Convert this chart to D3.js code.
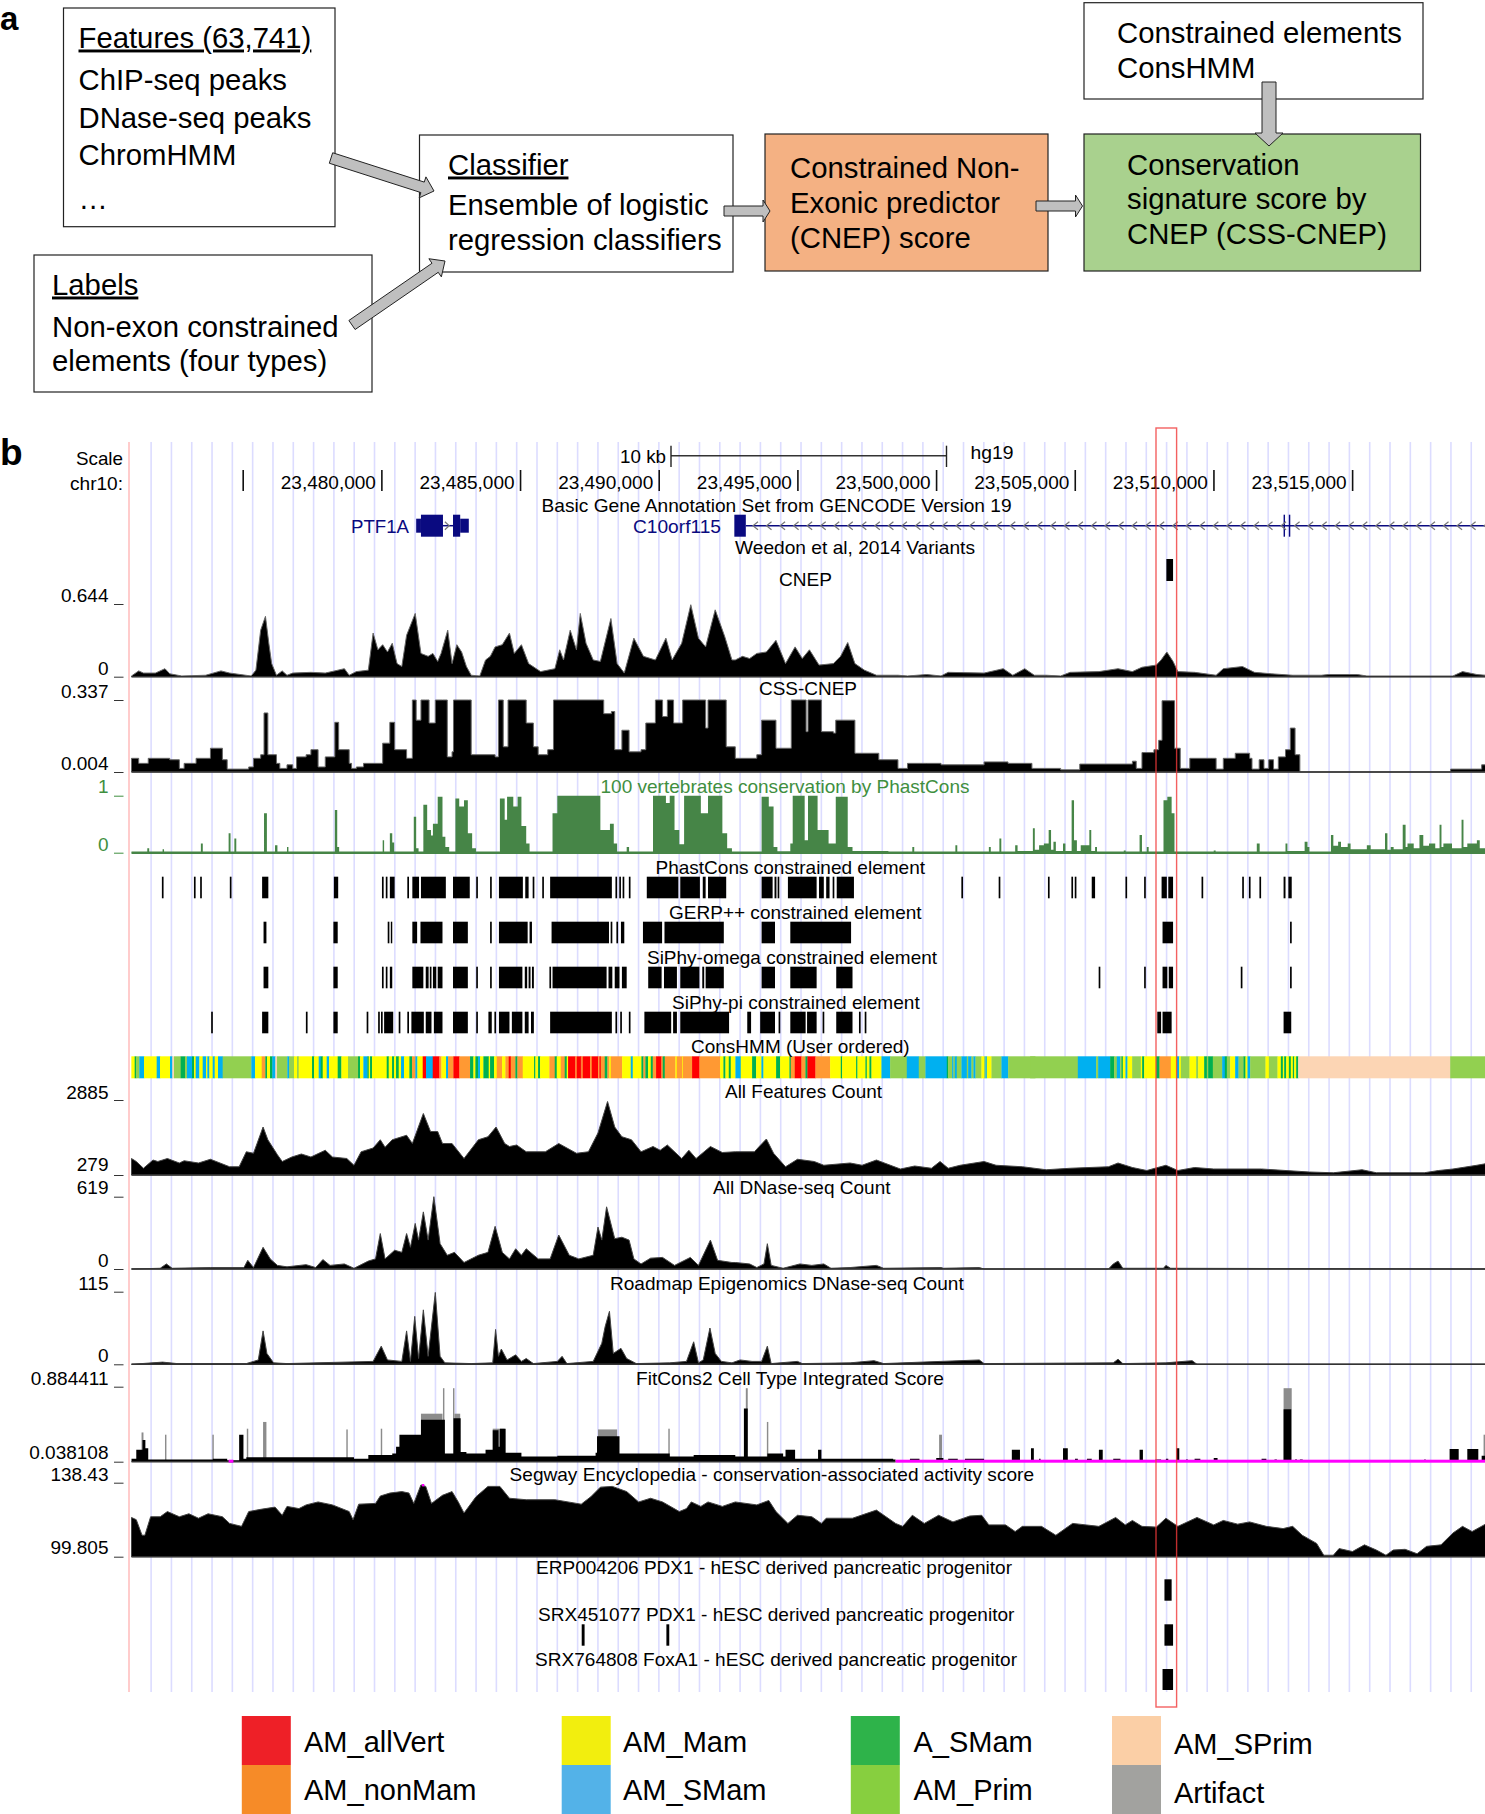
<!DOCTYPE html>
<html><head><meta charset="utf-8">
<script src="https://cdnjs.cloudflare.com/ajax/libs/d3/7.8.5/d3.min.js"></script>
<style>
html,body{margin:0;padding:0;background:#fff}
svg{display:block}
text{font-family:"Liberation Sans",Arial,sans-serif;fill:#000}
</style></head><body><svg id="c" width="1485" height="1814"></svg>
<script>
// ---------- DATA ----------
// Wiggle positions are in bins of BIN_BP from the view start; values are % of the track's viewing range.
const BIN_BP = 17.25, CONS_BP = 12.02, VIEW_START = 23470991, VIEW_BP = 48800;
const chrTicks = [23475000,23480000,23485000,23490000,23495000,23500000,23505000,23510000,23515000];

const cnep = [[0,1],[15,8],[25,5],[50,5],[70,11],[80,4],[105,1],[155,2],[187,8],[205,5],[250,1],[260,9],[270,64],[280,83],[287,46],[293,18],[303,2],[315,8],[325,2],[337,5],[375,6],[405,5],[445,11],[455,2],[470,7],[495,9],[505,60],[515,37],[525,44],[535,34],[545,46],[555,18],[565,14],[575,57],[593,87],[605,32],[620,28],[630,32],[640,21],[647,32],[661,64],[670,18],[680,44],[690,34],[700,14],[710,2],[728,1],[740,23],[750,28],[760,41],[775,44],[790,60],[800,32],[815,44],[830,18],[855,7],[885,11],[895,37],[903,23],[917,64],[930,37],[938,87],[950,46],[965,23],[980,21],[1002,80],[1015,18],[1030,5],[1050,53],[1070,28],[1095,23],[1117,53],[1130,23],[1150,46],[1169,99],[1185,53],[1200,41],[1220,92],[1240,55],[1255,23],[1262,23],[1277,28],[1292,25],[1307,32],[1327,34],[1347,50],[1367,18],[1387,41],[1402,25],[1417,37],[1437,16],[1467,18],[1482,28],[1497,47],[1512,18],[1532,9],[1557,2],[1602,2],[1622,1],[1662,3],[1692,1],[1707,6],[1782,5],[1822,11],[1842,2],[1867,11],[1887,2],[1912,2],[1942,1],[1962,6],[2022,7],[2062,11],[2092,7],[2112,13],[2142,16],[2152,23],[2164,34],[2177,21],[2187,7],[2222,6],[2267,2],[2282,11],[2322,14],[2347,6],[2382,4],[2427,2],[2487,2],[2502,3],[2562,3],[2582,1],[2762,1],[2782,7],[2812,3],[2830,2]];

const cssCnep = [[0,19],[15,12],[35,19],[80,17],[100,5],[110,12],[135,19],[165,33],[190,17],[200,4],[245,7],[255,19],[270,24],[277,82],[285,24],[303,12],[310,5],[325,10],[337,5],[345,21],[365,24],[375,31],[390,7],[405,21],[425,69],[433,31],[455,12],[460,5],[470,7],[485,12],[525,40],[540,69],[550,31],[575,19],[585,19],[587,100],[593,100],[595,72],[603,72],[605,100],[615,100],[622,68],[633,68],[635,100],[650,100],[660,21],[670,28],[673,100],[705,100],[710,24],[760,21],[767,100],[775,100],[777,35],[785,35],[787,100],[810,100],[825,68],[840,35],[850,24],[870,31],[882,100],[980,100],[987,81],[1003,84],[1010,31],[1025,58],[1040,28],[1065,31],[1075,68],[1095,100],[1107,100],[1110,77],[1118,77],[1120,100],[1130,100],[1133,68],[1150,68],[1152,100],[1185,100],[1200,61],[1203,61],[1205,100],[1235,100],[1243,35],[1262,19],[1307,24],[1317,72],[1337,72],[1347,33],[1377,33],[1379,100],[1407,100],[1410,56],[1414,100],[1435,100],[1442,56],[1467,54],[1472,72],[1502,72],[1512,26],[1562,17],[1602,5],[1622,12],[1662,12],[1692,10],[1782,14],[1832,12],[1882,5],[1942,3],[1982,11],[2092,15],[2100,5],[2112,27],[2137,31],[2147,44],[2154,99],[2172,99],[2180,33],[2192,5],[2212,19],[2257,19],[2267,4],[2282,19],[2307,26],[2337,19],[2342,4],[2357,17],[2367,5],[2377,17],[2387,4],[2397,21],[2412,31],[2422,61],[2432,24],[2442,0],[2752,0],[2757,4],[2812,4],[2822,10],[2830,7]];

const phastCons = [[0,1],[33,8],[37,1],[65,6],[68,1],[145,16],[149,1],[203,34],[207,1],[215,25],[219,1],[277,69],[283,1],[300,13],[305,1],[325,10],[328,1],[425,75],[430,10],[434,1],[525,22],[528,1],[540,34],[545,18],[549,1],[590,63],[595,8],[600,1],[610,84],[618,40],[626,30],[630,51],[640,98],[650,28],[656,10],[664,1],[677,95],[685,81],[695,92],[703,34],[712,8],[720,1],[770,95],[780,58],[785,98],[798,81],[807,98],[815,47],[825,16],[832,1],[880,69],[890,100],[980,40],[1000,51],[1008,16],[1015,1],[1035,10],[1040,1],[1090,100],[1117,87],[1125,100],[1135,40],[1145,15],[1155,100],[1190,69],[1205,100],[1235,34],[1245,8],[1255,1],[1317,98],[1332,81],[1342,10],[1350,2],[1377,16],[1382,100],[1407,22],[1414,100],[1434,40],[1457,16],[1472,98],[1497,10],[1507,3],[1582,1],[1632,10],[1636,1],[1722,13],[1726,1],[1792,10],[1796,1],[1814,25],[1818,1],[1847,13],[1852,3],[1884,43],[1888,5],[1897,13],[1907,16],[1917,40],[1922,5],[1927,19],[1932,3],[1947,16],[1952,3],[1965,92],[1970,22],[1976,3],[1984,13],[2002,40],[2006,3],[2014,10],[2018,1],[2074,4],[2078,1],[2107,31],[2112,1],[2122,10],[2126,1],[2157,92],[2165,98],[2174,69],[2180,1],[2262,4],[2266,1],[2352,16],[2358,1],[2412,16],[2416,3],[2452,19],[2458,10],[2462,1],[2507,31],[2512,12],[2522,19],[2528,10],[2542,16],[2548,6],[2582,13],[2590,6],[2620,34],[2625,5],[2632,10],[2638,6],[2657,49],[2663,10],[2667,16],[2680,8],[2692,31],[2700,12],[2712,16],[2725,8],[2734,49],[2738,10],[2742,16],[2760,8],[2780,58],[2784,10],[2792,16],[2812,22],[2818,8],[2830,16]];

const allFeatures = [[0,22],[10,18],[25,9],[45,20],[55,18],[75,22],[100,16],[110,19],[140,16],[165,21],[205,11],[225,11],[240,31],[255,29],[275,64],[285,47],[305,27],[315,18],[335,24],[355,28],[375,24],[405,33],[420,24],[450,22],[465,13],[480,31],[505,36],[520,47],[530,37],[545,47],[575,53],[587,42],[610,82],[625,58],[640,58],[650,42],[670,42],[695,22],[725,47],[745,51],[762,64],[780,42],[790,38],[805,40],[825,31],[865,31],[893,42],[930,29],[955,31],[975,56],[995,98],[1010,64],[1025,51],[1045,47],[1065,31],[1090,38],[1105,33],[1120,40],[1150,22],[1165,33],[1180,22],[1210,38],[1235,30],[1262,31],[1302,31],[1312,38],[1327,48],[1342,29],[1367,11],[1392,21],[1427,18],[1447,13],[1502,16],[1527,13],[1557,20],[1607,8],[1637,12],[1672,9],[1690,18],[1707,9],[1732,13],[1782,18],[1807,13],[1862,11],[1912,7],[1962,9],[2042,11],[2062,16],[2092,10],[2122,6],[2162,13],[2187,6],[2222,10],[2262,8],[2362,8],[2462,4],[2512,3],[2572,7],[2602,3],[2702,3],[2732,6],[2762,8],[2812,13],[2830,15]];

const allDnase = [[0,0],[60,1],[73,7],[85,1],[165,2],[235,2],[243,12],[255,2],[275,30],[290,14],[305,5],[325,3],[365,6],[385,2],[400,13],[415,5],[445,7],[465,1],[495,11],[510,14],[520,49],[530,14],[550,26],[565,23],[575,49],[583,30],[593,63],[600,40],[610,79],[620,40],[632,100],[645,35],[660,19],[675,23],[695,9],[725,19],[745,23],[760,59],[775,23],[790,14],[803,28],[815,19],[825,28],[850,14],[875,14],[893,47],[915,19],[935,14],[965,19],[975,58],[983,40],[993,86],[1010,42],[1025,44],[1040,40],[1050,14],[1065,7],[1085,15],[1110,16],[1135,5],[1168,16],[1185,5],[1210,40],[1225,12],[1255,9],[1262,9],[1292,7],[1307,2],[1322,7],[1329,35],[1337,5],[1362,1],[1397,7],[1422,5],[1447,7],[1462,1],[1502,2],[1557,5],[1572,1],[1692,2],[1697,1],[1772,2],[1782,0],[2042,0],[2052,7],[2062,11],[2072,1],[2157,1],[2162,5],[2172,1],[2830,0]];

const roadmapDnase = [[0,0],[65,3],[95,1],[240,1],[255,4],[265,6],[275,46],[283,15],[297,2],[325,1],[505,4],[522,25],[535,6],[565,4],[575,46],[583,4],[592,66],[600,8],[610,75],[620,11],[635,99],[645,11],[655,2],[710,1],[755,2],[761,48],[767,11],[773,21],[785,6],[803,13],[815,4],[825,8],[840,1],[890,4],[900,11],[910,1],[965,4],[983,29],[990,52],[999,73],[1007,15],[1023,22],[1035,8],[1055,1],[1125,2],[1160,4],[1175,31],[1185,2],[1195,6],[1209,50],[1220,15],[1233,4],[1255,2],[1272,6],[1297,4],[1317,4],[1329,25],[1337,1],[1392,4],[1402,1],[1502,2],[1552,5],[1572,1],[1772,6],[1782,1],[2052,2],[2062,7],[2072,1],[2162,2],[2217,5],[2227,0],[2830,0]];

const fitConsMean = [[0,4],[10,16],[23,29],[29,18],[35,3],[170,4],[200,2],[225,36],[234,4],[240,6],[325,6],[465,4],[495,9],[545,11],[553,20],[560,36],[605,56],[655,11],[673,58],[688,13],[700,11],[740,16],[755,42],[767,20],[770,44],[782,12],[815,7],[890,8],[970,12],[973,34],[1020,11],[1125,7],[1175,9],[1262,7],[1280,71],[1288,7],[1329,11],[1362,7],[1367,16],[1387,4],[1435,16],[1442,4],[1592,3],[1597,0],[1627,4],[1647,0],[1682,5],[1697,0],[1707,4],[1727,0],[1742,4],[1782,0],[1840,16],[1857,0],[1880,18],[1886,0],[1897,4],[1900,0],[1947,18],[1957,0],[1972,4],[1978,0],[1997,4],[2007,0],[2022,16],[2030,0],[2052,4],[2067,0],[2107,16],[2114,0],[2140,3],[2152,0],[2162,4],[2167,0],[2184,18],[2190,0],[2204,3],[2208,0],[2222,4],[2234,0],[2262,5],[2270,0],[2362,4],[2372,0],[2389,3],[2394,0],[2408,70],[2424,0],[2432,3],[2436,0],[2442,3],[2448,0],[2702,3],[2705,0],[2755,17],[2774,0],[2792,17],[2815,0],[2822,8],[2830,8]];
// upper whiskers: [start bin, end bin, %]
const fitConsWhisker = [[21,25,39],[70,73,36],[169,172,36],[241,244,44],[275,282,53],[449,452,43],[521,524,44],[605,650,64],[651,654,98],[672,675,98],[675,687,64],[755,780,44],[975,1015,43],[1122,1125,44],[1284,1288,98],[1328,1331,53],[1688,1694,36],[2408,2425,98],[2826,2829,36]];
const fitConsMissing = [[203,213],[1597,2830]];

const segway = [[0,53],[10,50],[22,29],[28,29],[40,54],[60,54],[75,61],[100,54],[120,58],[140,52],[160,58],[190,54],[205,45],[230,41],[245,61],[270,64],[300,67],[315,56],[325,68],[350,65],[365,70],[390,74],[420,70],[455,61],[463,50],[475,71],[510,72],[520,82],[540,86],[565,88],[580,86],[590,72],[605,97],[615,95],[627,72],[650,83],[670,88],[683,74],[695,59],[720,81],[745,95],[770,95],[790,79],[825,77],[885,77],[940,71],[960,81],[980,94],[1005,95],[1035,88],[1060,74],[1085,79],[1110,74],[1145,61],[1160,65],[1170,74],[1190,68],[1205,74],[1235,68],[1262,74],[1307,70],[1332,76],[1347,61],[1372,45],[1392,56],[1422,54],[1442,45],[1452,52],[1507,52],[1557,63],[1597,45],[1612,41],[1632,56],[1657,45],[1687,56],[1717,47],[1752,55],[1777,56],[1792,43],[1827,43],[1847,34],[1862,41],[1902,41],[1932,29],[1967,45],[2022,41],[2057,53],[2077,43],[2092,49],[2112,41],[2142,40],[2162,52],[2187,41],[2227,53],[2262,43],[2282,49],[2312,44],[2337,47],[2372,41],[2407,38],[2427,41],[2447,29],[2477,18],[2492,2],[2512,2],[2524,11],[2552,7],[2577,16],[2602,9],[2622,2],[2637,9],[2662,10],[2687,4],[2707,14],[2737,16],[2762,32],[2782,41],[2802,34],[2830,44]];

// element tracks: a number is a single narrow element, a pair is [start,end] in bins
const phastElements = [65,132,145,207,[273,286],[423,432],525,533,[540,550],578,[587,601],[605,657],[672,707],722,751,[768,818],[823,830],840,860,[875,1004],1013,1021,1028,1041,[1077,1143],[1147,1188],[1194,1200],[1205,1243],[1317,1340],[1344,1348],1352,[1372,1432],[1437,1447],[1452,1459],1467,[1474,1510],1736,1814,1917,1966,1973,[2007,2014],2079,2118,[2153,2164],[2167,2177],2238,2323,2337,2359,[2408,2412],[2418,2425]];
const gerpElements = [[276,282],[422,431],537,[542,545],[587,597],[604,650],[672,703],751,[768,828],[832,837],[878,998],1003,1015,[1023,1030],[1069,1109],[1114,1238],[1317,1345],[1377,1504],[2155,2177],2423];
const omegaElements = [[276,286],[422,431],525,533,[540,545],[587,610],[615,621],625,[630,637],[640,650],[672,703],722,751,[768,817],[822,827],[830,834],[837,841],875,[880,993],[997,1005],[1010,1020],[1025,1035],[1080,1108],[1113,1140],[1147,1187],[1193,1197],[1200,1238],[1317,1345],[1377,1432],[1473,1507],2023,2118,[2155,2165],[2168,2177],2320,2423];
const piElements = [168,[273,286],366,[422,431],493,517,523,[528,547],560,578,[585,611],[615,627],[632,650],[672,703],722,[746,753],760,[768,790],[795,817],[822,830],[835,841],[875,1004],1013,1023,1041,[1072,1128],[1132,1140],[1147,1249],[1287,1295],[1314,1345],1354,[1377,1409],[1412,1432],1446,[1473,1507],1522,1534,[2144,2152],[2155,2174],[2408,2424]];
const weedonVariants = [[2163,2177]];
const erpPeaks = [[2159,2174]];
const srx451Peaks = [[941,947],[1118,1124],[2159,2177]];
const srx764Peaks = [[2155,2177]];

// ConsHMM: [start, state] in units of CONS_BP counted from each stretch's first base
const consStretchStart = [-4.5, 1345.5, 2695.5];
const consLeft = [[4,"Y"],[14,"G"],[18,"L"],[28,"B"],[42,"Y"],[80,"B"],[90,"Y"],[120,"B"],[127,"P"],[132,"L"],[152,"G"],[165,"L"],[171,"B"],[186,"G"],[192,"Y"],[197,"B"],[208,"Y"],[218,"B"],[228,"Y"],[232,"B"],[238,"Y"],[248,"B"],[254,"Y"],[264,"B"],[278,"L"],[364,"B"],[375,"Y"],[395,"O"],[406,"G"],[411,"Y"],[420,"G"],[427,"B"],[436,"P"],[441,"L"],[472,"B"],[477,"L"],[492,"Y"],[501,"L"],[506,"Y"],[546,"G"],[552,"Y"],[566,"B"],[572,"G"],[578,"Y"],[590,"B"],[597,"Y"],[623,"G"],[634,"Y"],[654,"L"],[684,"G"],[690,"Y"],[700,"B"],[712,"G"],[716,"Y"],[720,"G"],[726,"Y"],[770,"G"],[776,"Y"],[786,"G"],[792,"Y"],[798,"G"],[806,"Y"],[813,"B"],[822,"Y"],[838,"G"],[846,"O"],[856,"B"],[862,"Y"],[878,"R"],[888,"B"],[908,"R"],[928,"O"],[934,"Y"],[948,"B"],[954,"O"],[970,"R"],[988,"O"],[1020,"G"],[1030,"Y"],[1036,"G"],[1044,"B"],[1050,"Y"],[1060,"G"],[1076,"Y"],[1080,"G"],[1092,"Y"],[1100,"O"],[1116,"Y"],[1126,"O"],[1136,"R"],[1142,"O"],[1156,"G"],[1162,"O"],[1178,"Y"],[1212,"G"],[1216,"Y"],[1224,"G"],[1230,"Y"],[1258,"O"],[1274,"G"],[1280,"Y"],[1292,"O"],[1304,"G"],[1310,"Y"],[1314,"R"],[1336,"O"],[1340,"R"]];
const consMid = [[0,"R"],[4,"O"],[8,"R"],[30,"O"],[35,"R"],[54,"O"],[58,"R"],[62,"O"],[74,"G"],[82,"O"],[88,"Y"],[92,"O"],[126,"Y"],[152,"B"],[158,"Y"],[184,"G"],[190,"O"],[196,"G"],[204,"Y"],[212,"G"],[218,"O"],[228,"R"],[244,"O"],[248,"G"],[254,"O"],[286,"Y"],[290,"O"],[306,"Y"],[308,"O"],[336,"R"],[358,"O"],[420,"Y"],[430,"G"],[436,"Y"],[446,"G"],[452,"Y"],[466,"B"],[482,"Y"],[516,"G"],[528,"Y"],[544,"B"],[550,"Y"],[588,"G"],[600,"Y"],[628,"G"],[632,"O"],[644,"R"],[664,"O"],[676,"G"],[682,"R"],[706,"O"],[750,"Y"],[782,"G"],[786,"Y"],[828,"G"],[832,"Y"],[856,"G"],[860,"Y"],[868,"G"],[874,"Y"],[904,"B"],[930,"L"],[980,"B"],[1016,"L"],[1036,"B"],[1100,"G"],[1104,"L"],[1116,"B"],[1120,"L"],[1124,"B"],[1130,"L"],[1144,"B"],[1160,"L"],[1164,"B"],[1174,"L"],[1180,"B"],[1186,"L"],[1204,"Y"],[1212,"L"],[1216,"B"],[1220,"Y"],[1234,"L"],[1264,"B"],[1284,"L"]];
const consRight = [[0,"L"],[143,"B"],[198,"L"],[204,"B"],[240,"G"],[252,"L"],[260,"B"],[270,"L"],[274,"G"],[278,"Y"],[286,"B"],[292,"Y"],[306,"L"],[332,"Y"],[336,"G"],[342,"Y"],[378,"G"],[388,"O"],[422,"Y"],[440,"B"],[447,"Y"],[452,"L"],[478,"Y"],[498,"L"],[504,"Y"],[522,"G"],[530,"L"],[534,"G"],[548,"L"],[576,"B"],[584,"G"],[590,"L"],[600,"Y"],[615,"B"],[625,"L"],[640,"G"],[646,"Y"],[652,"B"],[660,"L"],[706,"Y"],[716,"L"],[742,"Y"],[752,"G"],[758,"Y"],[762,"G"],[768,"Y"],[776,"G"],[782,"Y"],[788,"G"],[792,"Y"],[798,"G"],[804,"P"],[1260,"L"],[1365,"L"]];

// Gene models in bins: tall coding parts and thinner UTR parts
const ptf1aCoding = [[605,651],[672,687]];
const ptf1aUtr = [[595,605],[687,705]];
const c10Coding = [[1260,1284],[2408,2411],[2419,2422]];
const c10Line = [1284,2830];
const ptf1aLine = [651,672];

const legendNames = [["AM_allVert","AM_nonMam"],["AM_Mam","AM_SMam"],["A_SMam","AM_Prim"],["AM_SPrim","Artifact"]];

// ---------- LAYOUT & STYLE ----------
const svg = d3.select("#c");
const X0 = 131.5, X1 = 1485;
const xG = d3.scaleLinear().domain([VIEW_START, VIEW_START + VIEW_BP]).range([X0, X1]);
const xB = b => xG(VIEW_START + b * BIN_BP);
const stateColor = {R:"#ff0000",O:"#ff9933",Y:"#ffff00",B:"#00b0f0",G:"#00b050",L:"#92d050",P:"#fcd5b4"};
const legendColors = [["#ee2027","#f68b28"],["#f2ee0e","#53b2e8"],["#2eb34a","#87cf3f"],["#fbcfa6","#a2a29f"]];
const FS = 19;

function txt(g, s, x, y, o = {}) {
  const t = g.append("text").attr("x", x).attr("y", y).text(s).attr("font-size", o.size || FS);
  if (o.anchor) t.attr("text-anchor", o.anchor);
  if (o.fill) t.style("fill", o.fill);
  if (o.weight) t.attr("font-weight", o.weight);
  if (o.underline) t.attr("text-decoration", "underline");
  if (o.len) t.attr("textLength", o.len).attr("lengthAdjust", "spacingAndGlyphs");
  return t;
}

// ---- panel a ----
const a = svg.append("g");
const boxes = [
  {x:63.5,y:8,x2:335,y2:226.7,fill:"#fff"},
  {x:34,y:255,x2:372,y2:392,fill:"#fff"},
  {x:419.5,y:135,x2:733,y2:272,fill:"#fff"},
  {x:765,y:134,x2:1048,y2:271,fill:"#f4b183"},
  {x:1084,y:134,x2:1420.5,y2:271,fill:"#a9d18e"},
  {x:1084,y:2.7,x2:1423,y2:99,fill:"#fff"}
];
a.selectAll("rect").data(boxes).join("rect")
  .attr("x",d=>d.x).attr("y",d=>d.y).attr("width",d=>d.x2-d.x).attr("height",d=>d.y2-d.y)
  .attr("fill",d=>d.fill).attr("stroke","#222").attr("stroke-width",1.2);
const boxText = [
  ["Features (63,741)",78.5,47.5,true],["ChIP-seq peaks",78.5,89.5],["DNase-seq peaks",78.5,127.5],["ChromHMM",78.5,164.5],["…",78.5,209],
  ["Labels",52,294.5,true],["Non-exon constrained",52,336.5],["elements (four types)",52,370.5],
  ["Classifier",448,174.5,true],["Ensemble of logistic",448,214.5],["regression classifiers",448,249.5],
  ["Constrained Non-",790,177.5],["Exonic predictor",790,212.5],["(CNEP) score",790,247.5],
  ["Conservation",1127,174.5],["signature score by",1127,208.5],["CNEP (CSS-CNEP)",1127,243.5],
  ["Constrained elements",1117,42.5],["ConsHMM",1117,77.5]
];
boxText.forEach(d=>txt(a,d[0],d[1],d[2],{size:29.3,underline:d[3]}));
function blockArrow(x0,y0,x1,y1,w,hw,hl){
  const L=Math.hypot(x1-x0,y1-y0), ux=(x1-x0)/L, uy=(y1-y0)/L, nx=-uy, ny=ux;
  const P=(t,s)=>[x0+ux*t+nx*s, y0+uy*t+ny*s];
  const pts=[P(0,-w),P(L-hl,-w),P(L-hl,-hw),P(L,0),P(L-hl,hw),P(L-hl,w),P(0,w)];
  a.append("path").attr("d",d3.line()(pts)+"Z").attr("fill","#bfbfbf").attr("stroke","#222").attr("stroke-width",1);
}
blockArrow(331,158,434,191,5.5,11,12);
blockArrow(352,325,445,261,5.5,11,12);
blockArrow(724,211,770,211,5,11,7);
blockArrow(1036,206,1082.5,206,5,11,7);
blockArrow(1269,82,1269,146,7,14,13);
txt(a,"a",0,30,{size:33,weight:"bold"});
txt(a,"b",0,465,{size:37,weight:"bold"});

// ---- guides ----
const bg = svg.append("g");
const GRID_TOP = 442, GRID_BOTTOM = 1692;
bg.selectAll("line").data(d3.range(41,2900,42.45)).join("line")
  .attr("x1",xB).attr("x2",xB).attr("y1",GRID_TOP).attr("y2",GRID_BOTTOM)
  .attr("stroke","#dcdcff").attr("stroke-width",1.6);
bg.append("line").attr("x1",129).attr("x2",129).attr("y1",GRID_TOP).attr("y2",GRID_BOTTOM)
  .attr("stroke","#ffcccc").attr("stroke-width",2);

// ---- ruler ----
const r = svg.append("g");
txt(r,"Scale",123,465,{anchor:"end",len:47});
txt(r,"chr10:",123,490,{anchor:"end",len:53});
txt(r,"10 kb",666,463,{anchor:"end",len:46});
const SB = [671,946.5];
r.append("line").attr("x1",SB[0]).attr("x2",SB[1]).attr("y1",455.7).attr("y2",455.7).attr("stroke","#333").attr("stroke-width",1.4);
SB.forEach(x=>r.append("line").attr("x1",x).attr("x2",x).attr("y1",445.7).attr("y2",467).attr("stroke","#222").attr("stroke-width",1.4));
txt(r,"hg19",970.4,459,{len:43});
const axT = svg.append("g").attr("transform","translate(0,491)")
  .call(d3.axisTop(xG).tickValues(chrTicks).tickSize(21).tickPadding(0).tickFormat(d3.format(",")));
axT.select(".domain").remove();
axT.selectAll(".tick line").attr("stroke","#111").attr("stroke-width",1.6);
axT.selectAll(".tick text").attr("text-anchor","end").attr("x",-6).attr("y",-2).attr("dy",0)
  .attr("font-size",FS).attr("font-family",'"Liberation Sans",Arial,sans-serif').style("fill","#000");
axT.select(".tick text").style("display","none");

// ---- titles: [text, left, right, baseline] ----
const titles = [
  ["Basic Gene Annotation Set from GENCODE Version 19",541.6,1011.6,512],
  ["Weedon et al, 2014 Variants",735,975,554],
  ["CNEP",779,832,585.7],
  ["CSS-CNEP",759,857,695],
  ["100 vertebrates conservation by PhastCons",600.5,969.5,793,"#3f8f3f"],
  ["PhastCons constrained element",655.5,925,874],
  ["GERP++ constrained element",669,921.6,919],
  ["SiPhy-omega constrained element",647,937,964],
  ["SiPhy-pi constrained element",672,919.7,1009],
  ["ConsHMM (User ordered)",691,909.6,1053],
  ["All Features Count",725,882,1098],
  ["All DNase-seq Count",713,890.5,1194],
  ["Roadmap Epigenomics DNase-seq Count",610,963.7,1290],
  ["FitCons2 Cell Type Integrated Score",636,944,1385],
  ["Segway Encyclopedia - conservation-associated activity score",509.6,1034,1480.7],
  ["ERP004206 PDX1 - hESC derived pancreatic progenitor",536,1012,1574],
  ["SRX451077 PDX1 - hESC derived pancreatic progenitor",538,1014.4,1621],
  ["SRX764808 FoxA1 - hESC derived pancreatic progenitor",535,1017,1665.7]
];

// ---- genes ----
const NAVY = "#0a0a80";
const g = svg.append("g");
const GY = 525.7;
txt(g,"PTF1A",409,533,{anchor:"end",fill:NAVY,len:58});
txt(g,"C10orf115",721,533,{anchor:"end",fill:NAVY,len:88});
function gene(lineB,coding){
  g.append("line").attr("x1",xB(lineB[0])).attr("x2",xB(lineB[1])).attr("y1",GY).attr("y2",GY).attr("stroke",NAVY).attr("stroke-width",1.5);
  g.selectAll(null).data(coding).join("rect").attr("x",d=>xB(d[0])).attr("width",d=>xB(d[1])-xB(d[0]))
    .attr("y",GY-11).attr("height",22).attr("fill",NAVY);
}
gene(ptf1aLine,ptf1aCoding);
gene(c10Line,c10Coding);
g.selectAll(null).data(ptf1aUtr).join("rect").attr("x",d=>xB(d[0])).attr("width",d=>xB(d[1])-xB(d[0]))
  .attr("y",GY-7).attr("height",14).attr("fill",NAVY);
g.selectAll("path.c").data(d3.range(1299,2830,28.3)).join("path").attr("class","c")
  .attr("d",d=>`M${xB(d)+5},${GY-4}L${xB(d)},${GY}L${xB(d)+5},${GY+4}`)
  .attr("fill","none").attr("stroke","#777").attr("stroke-width",1.2);
g.append("path").attr("d",`M${xB(655)},${GY-4}L${xB(664)},${GY}L${xB(655)},${GY+4}`).attr("fill","none").attr("stroke","#777").attr("stroke-width",1.2);

// ---- wiggle tracks ----
const wiggles = [
  {data:cnep,top:604,base:676.7,lo:0,hi:0.644,labels:["0","0.644"],lab:[-2.5,-3],fill:"#000",edge:"#666",curve:d3.curveLinear},
  {data:cssCnep,top:700,base:772,lo:0.004,hi:0.337,labels:["0.004","0.337"],lab:[-3,-3],fill:"#000",edge:"#666",curve:d3.curveStepAfter},
  {data:phastCons,top:795.7,base:852.7,lo:0,hi:1,labels:["0","1"],lab:[-2,-3],fill:"#468547",edge:null,curve:d3.curveStepAfter,tc:"#3f8f3f"},
  {data:allFeatures,top:1100,base:1175,lo:279,hi:2885,labels:["279","2885"],lab:[-5,-2],fill:"#000",edge:"#444",curve:d3.curveLinear},
  {data:allDnase,top:1196.7,base:1269,lo:0,hi:619,labels:["0","619"],lab:[-3,-3],fill:"#000",edge:"#444",curve:d3.curveLinear},
  {data:roadmapDnase,top:1291.7,base:1364.3,lo:0,hi:115,labels:["0","115"],lab:[-3,-2],fill:"#000",edge:"#444",curve:d3.curveLinear},
  {data:fitConsMean,top:1386.7,base:1461.7,lo:0.038108,hi:0.884411,labels:["0.038108","0.884411"],lab:[-3,-2],fill:"#000",edge:null,curve:d3.curveStepAfter},
  {data:segway,top:1482.7,base:1556.7,lo:99.805,hi:138.43,labels:["99.805","138.43"],lab:[-3,-2],fill:"#000",edge:"#444",curve:d3.curveLinear}
];
const tr = svg.append("g");
wiggles.forEach((t,i)=>{
  const y = d3.scaleLinear().domain([t.lo,t.hi]).range([t.base,t.top]);
  const v = p => t.lo + p/100*(t.hi-t.lo);
  if (t.data===fitConsMean){
    tr.selectAll(null).data(fitConsWhisker).join("rect").attr("x",d=>xB(d[0])).attr("width",d=>xB(d[1])-xB(d[0]))
      .attr("y",d=>y(v(d[2]))).attr("height",d=>t.base-y(v(d[2]))).attr("fill","#8c8c8c");
  }
  const area = d3.area().x(d=>xB(d[0])).y0(t.base).y1(d=>y(v(d[1]))).curve(t.curve);
  tr.append("path").datum(t.data).attr("d",area).attr("fill",t.fill)
    .attr("stroke",t.edge||"none").attr("stroke-width",t.edge?1:0);
  if (t.data===fitConsMean){
    tr.append("line").attr("x1",X0).attr("x2",xB(1597)).attr("y1",t.base).attr("y2",t.base).attr("stroke","#333").attr("stroke-width",1.4);
    tr.selectAll(null).data(fitConsMissing).join("rect").attr("x",d=>xB(d[0])).attr("width",d=>xB(d[1])-xB(d[0]))
      .attr("y",t.base-2).attr("height",3).attr("fill","#ff00ff");
  } else if (t.data===phastCons) {
    tr.append("line").attr("x1",X0).attr("x2",X1).attr("y1",t.base).attr("y2",t.base).attr("stroke","#468547").attr("stroke-width",2.4);
  } else {
    tr.append("line").attr("x1",X0).attr("x2",X1).attr("y1",t.base).attr("y2",t.base).attr("stroke","#333").attr("stroke-width",1.4);
  }
  // left axis
  const ax = svg.append("g").attr("transform","translate(123.5,0)")
    .call(d3.axisLeft(y).tickValues([t.lo,t.hi]).tickSize(9.5).tickPadding(0).tickFormat((d,k)=>t.labels[k]));
  ax.select(".domain").remove();
  ax.selectAll(".tick line").attr("stroke",t.tc||"#333").attr("stroke-width",1);
  ax.selectAll(".tick text").attr("x",-15).attr("dy",0).attr("y",(d,k)=>t.lab[k])
    .attr("font-size",FS).attr("font-family",'"Liberation Sans",Arial,sans-serif').style("fill",t.tc||"#000");
});
// clipped-value marker on the Segway track
tr.append("rect").attr("x",xB(607)).attr("width",xB(612)-xB(607)).attr("y",1484).attr("height",2.4).attr("fill","#ff00ff");

// ---- element rows ----
const rows = [
  {data:weedonVariants,y:559,y2:581},
  {data:phastElements,y:876.7,y2:898.3},
  {data:gerpElements,y:921.7,y2:943.3},
  {data:omegaElements,y:966.7,y2:988.3},
  {data:piElements,y:1011.7,y2:1033.3},
  {data:erpPeaks,y:1579.3,y2:1600.7},
  {data:srx451Peaks,y:1624.3,y2:1645.7},
  {data:srx764Peaks,y:1669,y2:1690}
];
const span = e => Array.isArray(e) ? e : [e-1.5, e+2];
rows.forEach(r0=>{
  tr.selectAll(null).data(r0.data).join("rect")
    .attr("x",d=>xB(span(d)[0])).attr("width",d=>xB(span(d)[1])-xB(span(d)[0]))
    .attr("y",r0.y).attr("height",r0.y2-r0.y).attr("fill","#000");
});

// ---- ConsHMM ----
const consAll = [];
[consLeft,consMid,consRight].forEach((list,i)=>{
  list.forEach((d,k)=>{
    const nxt = k+1<list.length ? list[k+1][0] : (i<2 ? [1350,1365][i] : 1365);
    consAll.push({s:consStretchStart[i]+d[0], e:consStretchStart[i]+nxt, st:d[1]});
  });
});
const xC = u => xG(VIEW_START + u*CONS_BP);
tr.selectAll(null).data(consAll).join("rect")
  .attr("x",d=>xC(d.s)).attr("width",d=>Math.max(0,xC(d.e)-xC(d.s))+0.3)
  .attr("y",1056.3).attr("height",22).attr("fill",d=>stateColor[d.st]);

// ---- titles ----
const tg = svg.append("g");
titles.forEach(d=>txt(tg,d[0],d[1],d[3],{fill:d[4],len:d[2]-d[1]}));

// ---- highlight box ----
svg.append("rect").attr("x",1156).attr("y",428).attr("width",20.6).attr("height",1279)
  .attr("fill","none").attr("stroke","#f03a3a").attr("stroke-opacity",0.8).attr("stroke-width",1.4);

// ---- legend ----
const lg = svg.append("g");
const lgX = [241.8,561.7,850.8,1112], lgT=[304,623,913.5,1174], lgY=[1716,1765], lgB=[[1752,1800],[1752,1800],[1752,1800],[1754,1803]];
legendNames.forEach((col,i)=>col.forEach((name,j)=>{
  lg.append("rect").attr("x",lgX[i]).attr("y",lgY[j]).attr("width",49).attr("height",49).attr("fill",legendColors[i][j]);
  txt(lg,name,lgT[i],lgB[i][j],{size:29});
}));
</script></body></html>
